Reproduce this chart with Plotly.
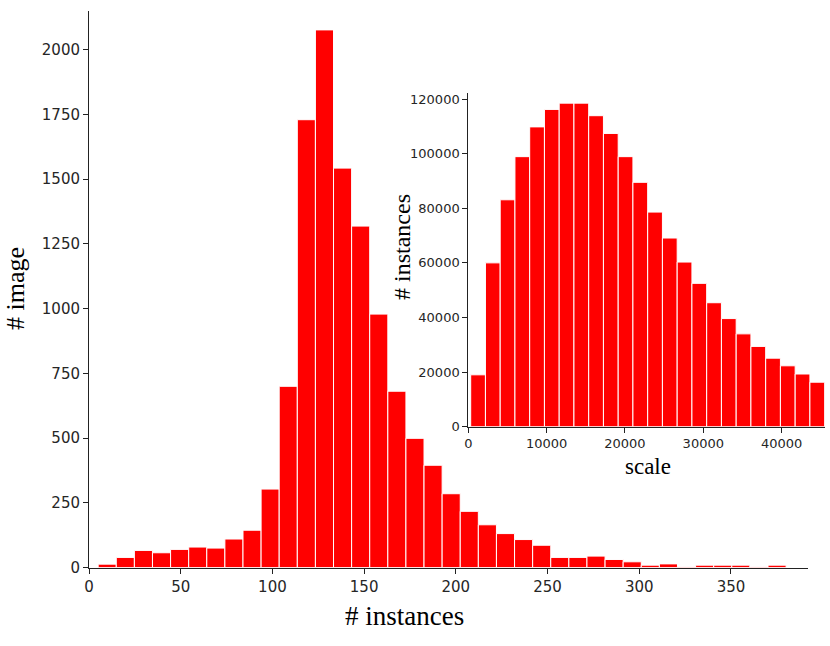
import numpy as np
import plotly.graph_objects as go

# main histogram: images per number of instances
main_counts = [13, 39, 66, 57, 70, 79, 75, 110, 144, 303, 700, 1730, 2077, 1543, 1319, 979, 681, 499,
               395, 285, 217, 165, 131, 108, 86, 39, 39, 44, 31, 22, 9, 14, 4, 9, 9, 9, 4, 9]
main_bin_start = 5
main_bin_width = 9.87
main_ticks = [0, 50, 100, 150, 200, 250, 300, 350]
main_yticks = [0, 250, 500, 750, 1000, 1250, 1500, 1750, 2000]

# inset histogram: instances per scale
inset_counts = [19000, 60000, 83100, 98900, 109800, 116200, 118500, 118500, 113900, 107400, 98900, 89500,
                78600, 69100, 60300, 52500, 45400, 39600, 34000, 29400, 25100, 22300, 19300, 16300]
inset_bin_start = 306
inset_bin_width = 1883
inset_ticks = [0, 10000, 20000, 30000, 40000]
inset_yticks = [0, 20000, 40000, 60000, 80000, 100000, 120000]

W, H = 830, 646
main_x = main_bin_start + main_bin_width * (np.arange(len(main_counts)) + 0.5)
inset_x = inset_bin_start + inset_bin_width * (np.arange(len(inset_counts)) + 0.5)

fig = go.Figure()
fig.add_trace(go.Bar(x=main_x, y=main_counts, width=main_bin_width,
                     marker=dict(color="#ff0000", line=dict(color="white", width=1)),
                     xaxis="x", yaxis="y"))
fig.add_trace(go.Bar(x=inset_x, y=inset_counts, width=inset_bin_width,
                     marker=dict(color="#ff0000", line=dict(color="white", width=1)),
                     xaxis="x2", yaxis="y2"))

tickfont_main = dict(family="DejaVu Sans", size=15, color="#262626")
tickfont_inset = dict(family="DejaVu Sans", size=13, color="#262626")
axis_common = dict(showgrid=False, zeroline=False, showline=True, linecolor="#222", linewidth=1,
                   ticks="outside", ticklen=5, tickcolor="#222", tickmode="array",
                   tickformat="d", automargin=False)

fig.update_layout(
    width=W, height=H,
    margin=dict(l=0, r=0, t=0, b=0, autoexpand=False),
    paper_bgcolor="white", plot_bgcolor="rgba(0,0,0,0)",
    showlegend=False, barmode="overlay",
    xaxis=dict(domain=[89 / W, 808 / W], range=[0, 392], tickvals=main_ticks,
               tickfont=tickfont_main, anchor="y", **axis_common),
    yaxis=dict(domain=[(H - 567.5) / H, (H - 11) / H], range=[0, 2150], tickvals=main_yticks,
               tickfont=tickfont_main, anchor="x", **axis_common),
    xaxis2=dict(domain=[468.3 / W, 825 / W], range=[0, 45540], tickvals=inset_ticks,
                tickfont=tickfont_inset, anchor="y2", **axis_common),
    yaxis2=dict(domain=[(H - 426.7) / H, (H - 93.3) / H], range=[0, 122100], tickvals=inset_yticks,
                tickfont=tickfont_inset, anchor="x2", **axis_common),
)

serif = "Liberation Serif"
labels = [
    ("# image", 16, 289, -90, 26),
    ("# instances", 404, 616, 0, 27),
    ("# instances", 402, 247, -90, 24),
    ("scale", 648, 466, 0, 23),
]
for text, px, py, angle, size in labels:
    fig.add_annotation(text=text, x=px / W, y=(H - py) / H, xref="paper", yref="paper",
                       xanchor="center", yanchor="middle", textangle=angle, showarrow=False,
                       font=dict(family=serif, size=size, color="black"))

fig.write_html("out.html", post_script="document.body.style.margin='0';",
               config={"displayModeBar": False})
